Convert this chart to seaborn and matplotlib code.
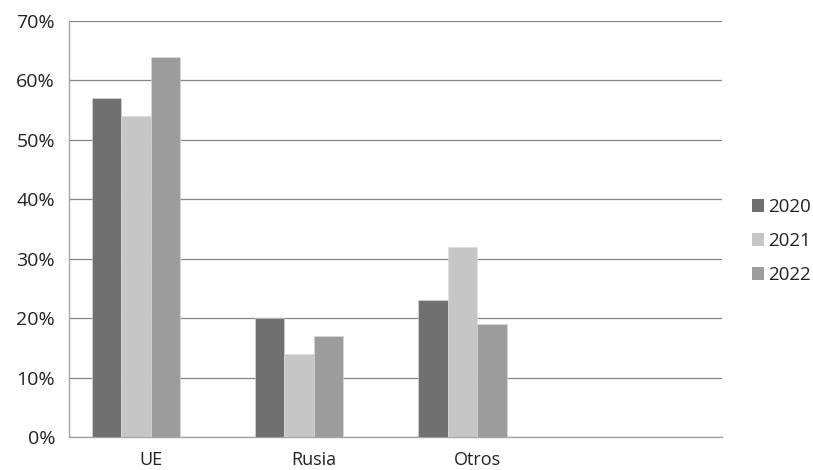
import matplotlib
matplotlib.use("Agg")
import matplotlib.pyplot as plt
from matplotlib.patches import Patch
from matplotlib.ticker import PercentFormatter, FixedLocator
import seaborn as sns
import pandas as pd

# Share by origin, per year (percent)
categories = ["UE", "Rusia", "Otros", " "]
years = ["2020", "2021", "2022"]
values_2020 = [57, 20, 23]
values_2021 = [54, 14, 32]
values_2022 = [64, 17, 19]
colors = ["#707070", "#c6c6c6", "#9c9c9c"]

rows = []
for year, vals in zip(years, [values_2020, values_2021, values_2022]):
    for cat, v in zip(categories[:3], vals):
        rows.append({"cat": cat, "year": year, "value": v})
df = pd.DataFrame(rows)

sns.set_style("white")
plt.rcParams["font.family"] = ["Open Sans", "DejaVu Sans"]

fig = plt.figure(figsize=(8.13, 4.70), dpi=100)
ax = fig.add_axes([69 / 813, 33 / 470, (722 - 69) / 813, (437 - 21) / 470])

# a fourth, empty hue slot keeps the spacing of the grouped bars
hue_order = years + ["pad"]
palette = dict(zip(hue_order, colors + ["#ffffff"]))
sns.barplot(data=df, x="cat", y="value", hue="year", order=categories,
            hue_order=hue_order, palette=palette, width=0.72,
            dodge=True, legend=False, ax=ax, zorder=3,
            edgecolor="#dcdcdc", linewidth=0.4, saturation=1)

ax.set_ylim(0, 70)
ax.set_xlim(-0.5, 3.5)
ax.yaxis.set_major_locator(FixedLocator(range(0, 71, 10)))
ax.yaxis.set_major_formatter(PercentFormatter(decimals=0))
ax.grid(axis="y", color="#868686", linewidth=0.9, zorder=0)
ax.set_axisbelow(True)

for side in ["top", "right"]:
    ax.spines[side].set_visible(False)
for side in ["left", "bottom"]:
    ax.spines[side].set_color("#a6a6a6")
    ax.spines[side].set_linewidth(1.0)

# category labels centred in each slot, tick marks on slot boundaries
ax.set_xticks(range(4))
ax.set_xticklabels(categories)
ax.set_xticks([-0.5, 0.5, 1.5, 2.5, 3.5], minor=True)
ax.tick_params(axis="x", which="major", length=0, pad=10, labelsize=13, labelcolor="#222222")
ax.tick_params(axis="x", which="minor", length=5, width=1, color="#a6a6a6", direction="out")
ax.tick_params(axis="y", length=5, width=1, color="#a6a6a6", direction="out",
               pad=5, labelsize=14, labelcolor="#222222")
ax.set_xlabel("")
ax.set_ylabel("")

handles = [Patch(facecolor=c, edgecolor="none") for c in colors]
fig.legend(handles, years, loc="center left", bbox_to_anchor=(752 / 813, 1 - 241 / 470),
           frameon=False, borderpad=0, borderaxespad=0,
           handlelength=0.65, handleheight=0.65, handletextpad=0.2,
           labelspacing=0.85, fontsize=13.5, labelcolor="#222222")

fig.savefig("out.png", dpi=100)
